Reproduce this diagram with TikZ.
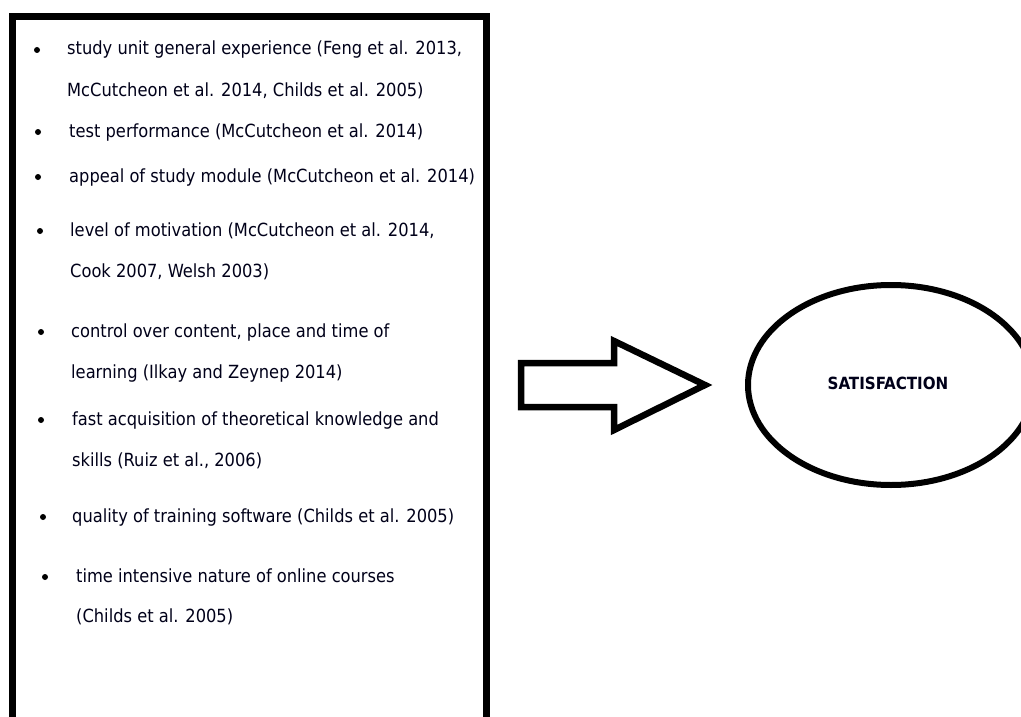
\documentclass[tikz,border=0pt]{standalone}
\usepackage{fontspec}
\setmainfont{DejaVu Sans Condensed}
\usetikzlibrary{shapes.geometric}
\begin{document}
\begin{tikzpicture}[x=1pt,y=-1pt,
  frame/.style={line width=7pt},
  itemtext/.style={anchor=base west,inner sep=0pt,font=\fontsize{18.1}{20}\selectfont,text=black!90!blue},
  dot/.style={circle,fill=black,inner sep=0pt,minimum size=6pt},
  blockarrow/.style={line width=6.5pt,line join=miter},
  goal/.style={draw,ellipse,line width=6pt,minimum width=286pt,minimum height=200pt,inner sep=0pt},
  goaltext/.style={font=\bfseries\fontsize{16.8}{18}\selectfont,text=black!90!blue}]
\useasboundingbox (0,0) rectangle (1021,717);
\clip (0,0) rectangle (1021,717);
\fill[white] (0,0) rectangle (1021,717);

% the frame holding the list of factors (runs off the bottom)
\draw[frame] (12.5,760) -- (12.5,17) -- (486,17) -- (486,760);

% list of factors
\node[dot] (b1) at (37,50) {};
\node[itemtext] (t1a) at (67,55) {study unit general experience (Feng et al. 2013,};
\node[itemtext] (t1b) at (67,96) {McCutcheon et al. 2014, Childs et al. 2005)};
\node[dot] (b2) at (38,132) {};
\node[itemtext] (t2) at (69,137) {test performance (McCutcheon et al. 2014)};
\node[dot] (b3) at (38,177) {};
\node[itemtext] (t3) at (69,182) {appeal of study module (McCutcheon et al. 2014)};
\node[dot] (b4) at (40,231) {};
\node[itemtext] (t4a) at (70,236) {level of motivation (McCutcheon et al. 2014,};
\node[itemtext] (t4b) at (70,277) {Cook 2007, Welsh 2003)};
\node[dot] (b5) at (41,332) {};
\node[itemtext] (t5a) at (71,337) {control over content, place and time of};
\node[itemtext] (t5b) at (71,378) {learning (Ilkay and Zeynep 2014)};
\node[dot] (b6) at (41,420) {};
\node[itemtext] (t6a) at (72,425) {fast acquisition of theoretical knowledge and};
\node[itemtext] (t6b) at (72,466) {skills (Ruiz et al., 2006)};
\node[dot] (b7) at (43,517) {};
\node[itemtext] (t7) at (72,522) {quality of training software (Childs et al. 2005)};
\node[dot] (b8) at (45,577) {};
\node[itemtext] (t8a) at (76,582) {time intensive nature of online courses};
\node[itemtext] (t8b) at (76,622) {(Childs et al. 2005)};

% hollow block arrow
\coordinate (a0) at (521,363);
\draw[blockarrow] (a0) -- (614,363) -- (614,341) -- (705,385) -- (614,430)
  -- (614,407) -- (521,407) -- cycle;

% outcome
\node[goal] (sat) at (891,385) {};
\node[goaltext] (satlabel) at (888,383) {SATISFACTION};
\end{tikzpicture}
\end{document}
